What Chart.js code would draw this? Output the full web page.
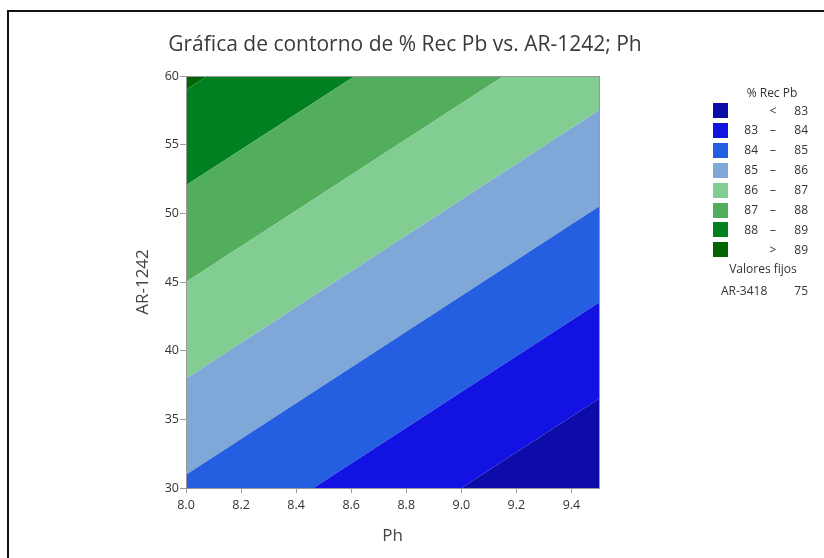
<!DOCTYPE html>
<html>
<head>
<meta charset="utf-8">
<script src="https://cdn.jsdelivr.net/npm/chart.js@4.4.1/dist/chart.umd.min.js"></script>
<style>
  html, body { margin: 0; padding: 0; background: #fff; }
  #wrap { position: relative; width: 824px; height: 558px; overflow: hidden; font-family: "Open Sans", sans-serif; color: #333; }
  #frame { position: absolute; left: 7px; top: 10px; width: 830px; height: 560px; border-left: 2px solid #111; border-top: 2px solid #111; }
  #c { position: absolute; left: 0; top: 0; }
  #title { position: absolute; left: 105px; width: 600px; top: 29px; text-align: center; font-size: 21px; color: #3a3a3a; white-space: nowrap; }
  .lg { position: absolute; font-size: 12px; color: #333; white-space: nowrap; line-height: 14px; }
  .sw { position: absolute; width: 15px; height: 15px; }
</style>
</head>
<body>
<div id="wrap">
  <div id="frame"></div>
  <canvas id="c" width="824" height="558"></canvas>
  <div id="title"></div>
  <div id="legend"></div>
</div>
<script>
// ---- data ----
const chartTitle = "Gráfica de contorno de % Rec Pb vs. AR-1242; Ph";
const xTitle = "Ph";
const yTitle = "AR-1242";
const phEnds = [8.0, 9.5];                       // x positions where each contour line is evaluated
const contourLevels = [83, 84, 85, 86, 87, 88, 89];
const arAtPh80 = [16.97, 23.97, 30.97, 37.96, 45.0, 52.04, 59.0]; // AR-1242 of each contour at Ph = 8.0
const arAtPh95 = [36.5, 43.5, 50.5, 57.5, 64.5, 71.5, 78.5];      // AR-1242 of each contour at Ph = 9.5
const bandColors = ["#0d0ca8", "#1212e2", "#235fe0", "#7fa7d8", "#82ce92", "#52ae5c", "#008020", "#006400"];
const legendTitle = "% Rec Pb";
const legendLo  = ["",  "83", "84", "85", "86", "87", "88", ""];
const legendSep = ["<", "–",  "–",  "–",  "–",  "–",  "–",  ">"];
const legendHi  = ["83","84", "85", "86", "87", "88", "89", "89"];
const fixedTitle = "Valores fijos";
const fixedName = ["AR-3418"];
const fixedValue = ["75"];
const xTicks = [8.0, 8.2, 8.4, 8.6, 8.8, 9.0, 9.2, 9.4];
const yTicks = [30, 35, 40, 45, 50, 55, 60];

// ---- build datasets ----
const datasets = [];
contourLevels.forEach((lv, i) => {
  datasets.push({
    label: String(lv),
    data: [{x: phEnds[0], y: arAtPh80[i]}, {x: phEnds[1], y: arAtPh95[i]}],
    backgroundColor: bandColors[i],
    borderColor: bandColors[i],
    borderWidth: 0,
    pointRadius: 0,
    fill: i === 0 ? 'start' : '-1'
  });
});
// top band (> last level)
const last = contourLevels.length - 1;
datasets.push({
  label: ">" + contourLevels[last],
  data: [{x: phEnds[0], y: arAtPh80[last]}, {x: phEnds[1], y: arAtPh95[last]}],
  backgroundColor: bandColors[last + 1],
  borderColor: bandColors[last + 1],
  borderWidth: 0,
  pointRadius: 0,
  fill: 'end'
});

const frameColor = "#9a9a9a";
const framePlugin = {
  id: 'plotFrame',
  afterDraw(chart) {
    const {ctx, chartArea: a} = chart;
    ctx.save();
    ctx.strokeStyle = frameColor;
    ctx.lineWidth = 1;
    ctx.strokeRect(Math.round(a.left) + 0.5, Math.round(a.top) + 0.5, Math.round(a.right - a.left), Math.round(a.bottom - a.top));
    ctx.restore();
  }
};

new Chart(document.getElementById('c'), {
  type: 'line',
  data: { datasets },
  plugins: [framePlugin],
  options: {
    responsive: false,
    devicePixelRatio: 1,
    animation: false,
    events: [],
    layout: { padding: { left: 0, right: 225, top: 76, bottom: 0 } },
    plugins: { legend: { display: false }, tooltip: { enabled: false }, title: { display: false } },
    elements: { line: { tension: 0 } },
    scales: {
      x: {
        type: 'linear', min: 8.0, max: 9.5,
        afterFit(s) { s.height = 70; },
        afterBuildTicks(s) { s.ticks = xTicks.map(v => ({value: v})); },
        ticks: { color: '#333', font: { family: 'Open Sans', size: 12.5 }, padding: 5, maxRotation: 0, autoSkip: false,
                 callback: v => Number(v).toFixed(1) },
        grid: { display: true, drawOnChartArea: false, drawTicks: true, tickLength: 5, color: frameColor },
        border: { display: true, color: frameColor },
        title: { display: true, text: xTitle, color: '#444', font: { family: 'Open Sans', size: 17 }, padding: { top: 0, bottom: 12 } }
      },
      y: {
        type: 'linear', min: 30, max: 60,
        afterFit(s) { s.width = 186; },
        afterBuildTicks(s) { s.ticks = yTicks.map(v => ({value: v})); },
        ticks: { color: '#333', font: { family: 'Open Sans', size: 12.5 }, padding: 1, autoSkip: false },
        grid: { display: true, drawOnChartArea: false, drawTicks: true, tickLength: 6, color: frameColor },
        border: { display: true, color: frameColor },
        title: { display: true, text: yTitle, color: '#444', font: { family: 'Open Sans', size: 17 }, padding: { top: 133, bottom: 0 } }
      }
    }
  }
});

// ---- HTML title and legend ----
document.getElementById('title').textContent = chartTitle;
const lg = document.getElementById('legend');
function addText(txt, left, top, align, width) {
  const d = document.createElement('div');
  d.className = 'lg';
  d.textContent = txt;
  d.style.top = top + 'px';
  if (align === 'right') { d.style.left = (left - width) + 'px'; d.style.width = width + 'px'; d.style.textAlign = 'right'; }
  else if (align === 'center') { d.style.left = (left - width / 2) + 'px'; d.style.width = width + 'px'; d.style.textAlign = 'center'; }
  else { d.style.left = left + 'px'; }
  lg.appendChild(d);
}
addText(legendTitle, 772, 86, 'center', 100);
for (let i = 0; i < bandColors.length; i++) {
  const top = 103 + i * 19.9;
  const sw = document.createElement('div');
  sw.className = 'sw';
  sw.style.left = '713px';
  sw.style.top = top + 'px';
  sw.style.background = bandColors[i];
  lg.appendChild(sw);
  const ty = top + 0.5;
  addText(legendLo[i], 758, ty, 'right', 30);
  addText(legendSep[i], 773, ty, 'center', 20);
  addText(legendHi[i], 808, ty, 'right', 30);
}
addText(fixedTitle, 763, 262, 'center', 120);
fixedName.forEach((n, i) => {
  addText(n, 721, 284 + i * 20, 'left');
  addText(fixedValue[i], 808, 284 + i * 20, 'right', 30);
});
</script>
</body>
</html>
